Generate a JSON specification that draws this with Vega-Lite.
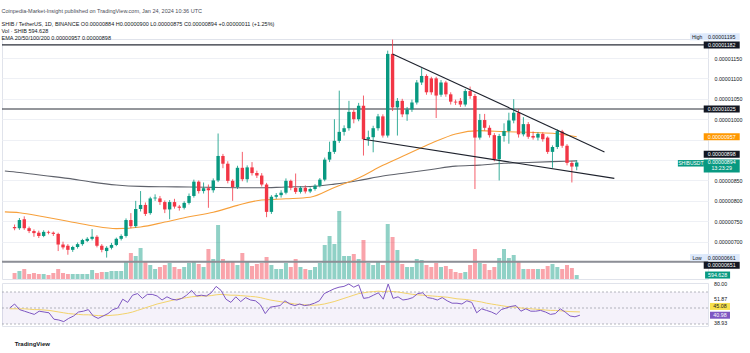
{
"$schema": "https://vega.github.io/schema/vega-lite/v6.json",
"background": "#ffffff",
"padding": {"left": 0, "top": 8, "right": 2, "bottom": 0},
"title": {"text": "Coinpedia-Market-Insight published on TradingView.com, Jan 24, 2024 10:36 UTC", "subtitle": ["   SHIB / TetherUS, 1D, BINANCE   O0.00000884  H0.00000900  L0.00000875  C0.00000894  +0.00000011 (+1.25%)", "   Vol · SHIB   594.628", "   EMA 20/50/100/200   0.00000957   0.00000898"], "anchor": "start", "fontSize": 5.5, "fontWeight": "normal", "color": "#4a4d57", "subtitleFontSize": 5.5, "subtitleColor": "#131722", "subtitleLineHeight": 7, "subtitlePadding": 8, "offset": -9, "dx": 1},
"spacing": 1,
"config": {
  "font": "Liberation Sans",
  "view": {"stroke": "#e0e3eb", "strokeWidth": 1},
  "axis": {"labelFont": "Liberation Sans"},
  "text": {"font": "Liberation Sans"},
  "title": {"font": "Liberation Sans", "subtitleFont": "Liberation Sans"}
},
"datasets": {
"candles": [
{"date":"2023-09-30","open":736e-8,"high":742e-8,"low":728e-8,"close":733e-8,"volume":900,"rsi":50,"rsiMA":49},
{"date":"2023-10-01","open":733e-8,"high":758e-8,"low":729e-8,"close":753e-8,"volume":1200,"rsi":55,"rsiMA":49},
{"date":"2023-10-02","open":755e-8,"high":762e-8,"low":729e-8,"close":733e-8,"volume":1500,"rsi":48,"rsiMA":49},
{"date":"2023-10-03","open":733e-8,"high":737e-8,"low":721e-8,"close":726e-8,"volume":750,"rsi":46,"rsiMA":49},
{"date":"2023-10-04","open":726e-8,"high":730e-8,"low":712e-8,"close":721e-8,"volume":900,"rsi":44,"rsiMA":48.5},
{"date":"2023-10-05","open":722e-8,"high":727e-8,"low":709e-8,"close":714e-8,"volume":750,"rsi":42,"rsiMA":48},
{"date":"2023-10-06","open":714e-8,"high":728e-8,"low":711e-8,"close":724e-8,"volume":750,"rsi":46,"rsiMA":48},
{"date":"2023-10-07","open":724e-8,"high":727e-8,"low":718e-8,"close":722e-8,"volume":600,"rsi":45,"rsiMA":47.5},
{"date":"2023-10-08","open":722e-8,"high":725e-8,"low":714e-8,"close":719e-8,"volume":900,"rsi":44,"rsiMA":47},
{"date":"2023-10-09","open":719e-8,"high":722e-8,"low":677e-8,"close":693e-8,"volume":1500,"rsi":36,"rsiMA":46},
{"date":"2023-10-10","open":693e-8,"high":700e-8,"low":681e-8,"close":686e-8,"volume":900,"rsi":35,"rsiMA":45},
{"date":"2023-10-11","open":690e-8,"high":694e-8,"low":668e-8,"close":680e-8,"volume":750,"rsi":33,"rsiMA":44},
{"date":"2023-10-12","open":680e-8,"high":690e-8,"low":675e-8,"close":687e-8,"volume":750,"rsi":37,"rsiMA":43},
{"date":"2023-10-13","open":687e-8,"high":698e-8,"low":683e-8,"close":694e-8,"volume":750,"rsi":40,"rsiMA":42.5},
{"date":"2023-10-14","open":694e-8,"high":707e-8,"low":690e-8,"close":704e-8,"volume":750,"rsi":45,"rsiMA":42},
{"date":"2023-10-15","open":702e-8,"high":711e-8,"low":699e-8,"close":707e-8,"volume":750,"rsi":46,"rsiMA":41.5},
{"date":"2023-10-16","open":707e-8,"high":731e-8,"low":703e-8,"close":712e-8,"volume":1350,"rsi":48,"rsiMA":41.5},
{"date":"2023-10-17","open":712e-8,"high":716e-8,"low":686e-8,"close":690e-8,"volume":900,"rsi":40,"rsiMA":41},
{"date":"2023-10-18","open":690e-8,"high":694e-8,"low":674e-8,"close":680e-8,"volume":1050,"rsi":37,"rsiMA":40.5},
{"date":"2023-10-19","open":677e-8,"high":689e-8,"low":661e-8,"close":685e-8,"volume":1050,"rsi":40,"rsiMA":40.5},
{"date":"2023-10-20","open":685e-8,"high":697e-8,"low":681e-8,"close":692e-8,"volume":1200,"rsi":43,"rsiMA":40.5},
{"date":"2023-10-21","open":692e-8,"high":710e-8,"low":689e-8,"close":707e-8,"volume":1200,"rsi":48,"rsiMA":41},
{"date":"2023-10-22","open":707e-8,"high":718e-8,"low":703e-8,"close":714e-8,"volume":1200,"rsi":50,"rsiMA":41.5},
{"date":"2023-10-23","open":714e-8,"high":757e-8,"low":710e-8,"close":753e-8,"volume":2700,"rsi":61,"rsiMA":42.5},
{"date":"2023-10-24","open":753e-8,"high":770e-8,"low":733e-8,"close":738e-8,"volume":3900,"rsi":57,"rsiMA":43.5},
{"date":"2023-10-25","open":738e-8,"high":800e-8,"low":734e-8,"close":780e-8,"volume":3450,"rsi":66,"rsiMA":45},
{"date":"2023-10-26","open":780e-8,"high":824e-8,"low":774e-8,"close":790e-8,"volume":4650,"rsi":68,"rsiMA":47},
{"date":"2023-10-27","open":790e-8,"high":796e-8,"low":763e-8,"close":768e-8,"volume":2700,"rsi":62,"rsiMA":49},
{"date":"2023-10-28","open":770e-8,"high":810e-8,"low":766e-8,"close":806e-8,"volume":2100,"rsi":67,"rsiMA":51},
{"date":"2023-10-29","open":806e-8,"high":816e-8,"low":800e-8,"close":808e-8,"volume":1500,"rsi":67,"rsiMA":53},
{"date":"2023-10-30","open":806e-8,"high":812e-8,"low":790e-8,"close":797e-8,"volume":1800,"rsi":65,"rsiMA":55},
{"date":"2023-10-31","open":797e-8,"high":801e-8,"low":770e-8,"close":779e-8,"volume":2100,"rsi":60,"rsiMA":56.5},
{"date":"2023-11-01","open":779e-8,"high":802e-8,"low":755e-8,"close":797e-8,"volume":2400,"rsi":64,"rsiMA":58},
{"date":"2023-11-02","open":797e-8,"high":805e-8,"low":781e-8,"close":786e-8,"volume":1800,"rsi":61,"rsiMA":59.5},
{"date":"2023-11-03","open":786e-8,"high":790e-8,"low":776e-8,"close":783e-8,"volume":1500,"rsi":60,"rsiMA":61},
{"date":"2023-11-04","open":783e-8,"high":799e-8,"low":779e-8,"close":795e-8,"volume":1800,"rsi":62,"rsiMA":62},
{"date":"2023-11-05","open":795e-8,"high":818e-8,"low":791e-8,"close":812e-8,"volume":2400,"rsi":66,"rsiMA":63},
{"date":"2023-11-06","open":812e-8,"high":852e-8,"low":808e-8,"close":847e-8,"volume":2550,"rsi":72,"rsiMA":64},
{"date":"2023-11-07","open":847e-8,"high":850e-8,"low":818e-8,"close":824e-8,"volume":2250,"rsi":65,"rsiMA":64.5},
{"date":"2023-11-08","open":824e-8,"high":845e-8,"low":818e-8,"close":831e-8,"volume":1800,"rsi":66,"rsiMA":65},
{"date":"2023-11-09","open":831e-8,"high":840e-8,"low":783e-8,"close":826e-8,"volume":4500,"rsi":65,"rsiMA":65},
{"date":"2023-11-10","open":826e-8,"high":855e-8,"low":820e-8,"close":850e-8,"volume":3000,"rsi":69,"rsiMA":65.5},
{"date":"2023-11-11","open":850e-8,"high":965e-8,"low":846e-8,"close":910e-8,"volume":8100,"rsi":77,"rsiMA":66.5},
{"date":"2023-11-12","open":910e-8,"high":915e-8,"low":880e-8,"close":891e-8,"volume":3000,"rsi":72,"rsiMA":67},
{"date":"2023-11-13","open":891e-8,"high":897e-8,"low":843e-8,"close":849e-8,"volume":2700,"rsi":61,"rsiMA":66.5},
{"date":"2023-11-14","open":849e-8,"high":853e-8,"low":800e-8,"close":834e-8,"volume":2550,"rsi":57,"rsiMA":66},
{"date":"2023-11-15","open":834e-8,"high":886e-8,"low":829e-8,"close":881e-8,"volume":2100,"rsi":64,"rsiMA":66},
{"date":"2023-11-16","open":881e-8,"high":920e-8,"low":848e-8,"close":853e-8,"volume":3900,"rsi":58,"rsiMA":65.5},
{"date":"2023-11-17","open":853e-8,"high":887e-8,"low":845e-8,"close":882e-8,"volume":2700,"rsi":63,"rsiMA":65},
{"date":"2023-11-18","open":882e-8,"high":895e-8,"low":862e-8,"close":868e-8,"volume":1950,"rsi":60,"rsiMA":64.5},
{"date":"2023-11-19","open":868e-8,"high":874e-8,"low":856e-8,"close":862e-8,"volume":2250,"rsi":59,"rsiMA":64},
{"date":"2023-11-20","open":862e-8,"high":868e-8,"low":835e-8,"close":840e-8,"volume":2400,"rsi":54,"rsiMA":63},
{"date":"2023-11-21","open":840e-8,"high":844e-8,"low":760e-8,"close":773e-8,"volume":3300,"rsi":43,"rsiMA":61.5},
{"date":"2023-11-22","open":773e-8,"high":814e-8,"low":768e-8,"close":810e-8,"volume":2100,"rsi":51,"rsiMA":60},
{"date":"2023-11-23","open":810e-8,"high":819e-8,"low":805e-8,"close":814e-8,"volume":1500,"rsi":52,"rsiMA":59},
{"date":"2023-11-24","open":814e-8,"high":826e-8,"low":808e-8,"close":820e-8,"volume":1500,"rsi":53,"rsiMA":58},
{"date":"2023-11-25","open":820e-8,"high":855e-8,"low":816e-8,"close":849e-8,"volume":2400,"rsi":59,"rsiMA":57},
{"date":"2023-11-26","open":849e-8,"high":852e-8,"low":826e-8,"close":832e-8,"volume":1800,"rsi":55,"rsiMA":56},
{"date":"2023-11-27","open":832e-8,"high":867e-8,"low":817e-8,"close":822e-8,"volume":3000,"rsi":53,"rsiMA":55},
{"date":"2023-11-28","open":822e-8,"high":836e-8,"low":818e-8,"close":832e-8,"volume":1800,"rsi":55,"rsiMA":54.5},
{"date":"2023-11-29","open":832e-8,"high":838e-8,"low":818e-8,"close":823e-8,"volume":1500,"rsi":53,"rsiMA":54},
{"date":"2023-11-30","open":823e-8,"high":833e-8,"low":819e-8,"close":829e-8,"volume":1350,"rsi":54,"rsiMA":53.5},
{"date":"2023-12-01","open":829e-8,"high":841e-8,"low":825e-8,"close":837e-8,"volume":1800,"rsi":56,"rsiMA":53.5},
{"date":"2023-12-02","open":837e-8,"high":856e-8,"low":833e-8,"close":852e-8,"volume":2400,"rsi":59,"rsiMA":54},
{"date":"2023-12-03","open":852e-8,"high":906e-8,"low":848e-8,"close":901e-8,"volume":5100,"rsi":68,"rsiMA":55},
{"date":"2023-12-04","open":901e-8,"high":945e-8,"low":895e-8,"close":920e-8,"volume":6450,"rsi":71,"rsiMA":56.5},
{"date":"2023-12-05","open":920e-8,"high":1000e-8,"low":915e-8,"close":947e-8,"volume":5250,"rsi":74,"rsiMA":58},
{"date":"2023-12-06","open":947e-8,"high":1070e-8,"low":942e-8,"close":969e-8,"volume":10200,"rsi":76,"rsiMA":60},
{"date":"2023-12-07","open":969e-8,"high":985e-8,"low":960e-8,"close":978e-8,"volume":3450,"rsi":77,"rsiMA":62},
{"date":"2023-12-08","open":978e-8,"high":1045e-8,"low":972e-8,"close":1018e-8,"volume":3450,"rsi":80,"rsiMA":64},
{"date":"2023-12-09","open":1018e-8,"high":1024e-8,"low":990e-8,"close":1000e-8,"volume":3750,"rsi":76,"rsiMA":66},
{"date":"2023-12-10","open":1000e-8,"high":1040e-8,"low":995e-8,"close":1033e-8,"volume":3000,"rsi":79,"rsiMA":68},
{"date":"2023-12-11","open":1033e-8,"high":1058e-8,"low":911e-8,"close":951e-8,"volume":5850,"rsi":62,"rsiMA":69},
{"date":"2023-12-12","open":951e-8,"high":972e-8,"low":935e-8,"close":956e-8,"volume":2400,"rsi":63,"rsiMA":70},
{"date":"2023-12-13","open":956e-8,"high":984e-8,"low":919e-8,"close":978e-8,"volume":2100,"rsi":66,"rsiMA":70.5},
{"date":"2023-12-14","open":978e-8,"high":1013e-8,"low":972e-8,"close":1007e-8,"volume":2700,"rsi":69,"rsiMA":71},
{"date":"2023-12-15","open":1007e-8,"high":1012e-8,"low":955e-8,"close":960e-8,"volume":2100,"rsi":61,"rsiMA":70.5},
{"date":"2023-12-16","open":960e-8,"high":1168e-8,"low":955e-8,"close":1160e-8,"volume":8250,"rsi":80,"rsiMA":71},
{"date":"2023-12-17","open":1160e-8,"high":1195e-8,"low":1020e-8,"close":1029e-8,"volume":6300,"rsi":62,"rsiMA":70.5},
{"date":"2023-12-18","open":1029e-8,"high":1052e-8,"low":960e-8,"close":1045e-8,"volume":4350,"rsi":64,"rsiMA":70},
{"date":"2023-12-19","open":1045e-8,"high":1050e-8,"low":1005e-8,"close":1012e-8,"volume":2250,"rsi":60,"rsiMA":69},
{"date":"2023-12-20","open":1012e-8,"high":1030e-8,"low":996e-8,"close":1024e-8,"volume":1800,"rsi":61,"rsiMA":68},
{"date":"2023-12-21","open":1024e-8,"high":1048e-8,"low":1018e-8,"close":1041e-8,"volume":1800,"rsi":63,"rsiMA":67},
{"date":"2023-12-22","open":1041e-8,"high":1096e-8,"low":1036e-8,"close":1090e-8,"volume":3000,"rsi":68,"rsiMA":66.5},
{"date":"2023-12-23","open":1090e-8,"high":1125e-8,"low":1084e-8,"close":1106e-8,"volume":2850,"rsi":69,"rsiMA":66},
{"date":"2023-12-24","open":1106e-8,"high":1110e-8,"low":1060e-8,"close":1066e-8,"volume":2100,"rsi":63,"rsiMA":65.5},
{"date":"2023-12-25","open":1100e-8,"high":1104e-8,"low":1060e-8,"close":1066e-8,"volume":1800,"rsi":62,"rsiMA":65},
{"date":"2023-12-26","open":1100e-8,"high":1104e-8,"low":1003e-8,"close":1058e-8,"volume":2400,"rsi":60,"rsiMA":64.5},
{"date":"2023-12-27","open":1060e-8,"high":1096e-8,"low":1055e-8,"close":1090e-8,"volume":1800,"rsi":63,"rsiMA":64},
{"date":"2023-12-28","open":1090e-8,"high":1094e-8,"low":1055e-8,"close":1061e-8,"volume":1950,"rsi":59,"rsiMA":63.5},
{"date":"2023-12-29","open":1061e-8,"high":1066e-8,"low":1036e-8,"close":1043e-8,"volume":1500,"rsi":56,"rsiMA":62.5},
{"date":"2023-12-30","open":1043e-8,"high":1048e-8,"low":1035e-8,"close":1041e-8,"volume":1050,"rsi":56,"rsiMA":61.5},
{"date":"2023-12-31","open":1045e-8,"high":1052e-8,"low":1030e-8,"close":1036e-8,"volume":900,"rsi":55,"rsiMA":61},
{"date":"2024-01-01","open":1036e-8,"high":1074e-8,"low":1031e-8,"close":1069e-8,"volume":1050,"rsi":59,"rsiMA":60.5},
{"date":"2024-01-02","open":1069e-8,"high":1080e-8,"low":1050e-8,"close":1057e-8,"volume":2100,"rsi":57,"rsiMA":59.5},
{"date":"2024-01-03","open":1057e-8,"high":1062e-8,"low":829e-8,"close":955e-8,"volume":4500,"rsi":44,"rsiMA":58.5},
{"date":"2024-01-04","open":955e-8,"high":1013e-8,"low":950e-8,"close":998e-8,"volume":2400,"rsi":49,"rsiMA":57.5},
{"date":"2024-01-05","open":998e-8,"high":1013e-8,"low":972e-8,"close":979e-8,"volume":2250,"rsi":47,"rsiMA":56},
{"date":"2024-01-06","open":979e-8,"high":985e-8,"low":955e-8,"close":961e-8,"volume":1350,"rsi":45,"rsiMA":55},
{"date":"2024-01-07","open":961e-8,"high":966e-8,"low":897e-8,"close":902e-8,"volume":1800,"rsi":42,"rsiMA":54},
{"date":"2024-01-08","open":902e-8,"high":964e-8,"low":850e-8,"close":959e-8,"volume":3150,"rsi":48,"rsiMA":53},
{"date":"2024-01-09","open":959e-8,"high":990e-8,"low":945e-8,"close":971e-8,"volume":4500,"rsi":50,"rsiMA":52},
{"date":"2024-01-10","open":971e-8,"high":1016e-8,"low":940e-8,"close":997e-8,"volume":3150,"rsi":52,"rsiMA":51.5},
{"date":"2024-01-11","open":997e-8,"high":1049e-8,"low":990e-8,"close":1016e-8,"volume":3600,"rsi":53,"rsiMA":51},
{"date":"2024-01-12","open":1016e-8,"high":1024e-8,"low":955e-8,"close":963e-8,"volume":2550,"rsi":46,"rsiMA":50},
{"date":"2024-01-13","open":963e-8,"high":1005e-8,"low":958e-8,"close":988e-8,"volume":1500,"rsi":49,"rsiMA":49.5},
{"date":"2024-01-14","open":988e-8,"high":993e-8,"low":952e-8,"close":957e-8,"volume":1500,"rsi":46,"rsiMA":49},
{"date":"2024-01-15","open":959e-8,"high":970e-8,"low":950e-8,"close":955e-8,"volume":1500,"rsi":46,"rsiMA":48.5},
{"date":"2024-01-16","open":955e-8,"high":968e-8,"low":948e-8,"close":964e-8,"volume":1500,"rsi":47,"rsiMA":48},
{"date":"2024-01-17","open":964e-8,"high":968e-8,"low":945e-8,"close":951e-8,"volume":1500,"rsi":45,"rsiMA":47.5},
{"date":"2024-01-18","open":955e-8,"high":958e-8,"low":915e-8,"close":920e-8,"volume":1950,"rsi":42,"rsiMA":47},
{"date":"2024-01-19","open":920e-8,"high":936e-8,"low":881e-8,"close":932e-8,"volume":2250,"rsi":43,"rsiMA":47},
{"date":"2024-01-20","open":932e-8,"high":975e-8,"low":927e-8,"close":971e-8,"volume":1800,"rsi":49,"rsiMA":46.5},
{"date":"2024-01-21","open":970e-8,"high":974e-8,"low":930e-8,"close":935e-8,"volume":1500,"rsi":45,"rsiMA":46},
{"date":"2024-01-22","open":935e-8,"high":939e-8,"low":887e-8,"close":893e-8,"volume":2100,"rsi":40,"rsiMA":45.5},
{"date":"2024-01-23","open":893e-8,"high":898e-8,"low":845e-8,"close":884e-8,"volume":1650,"rsi":39,"rsiMA":45.3},
{"date":"2024-01-24","open":884e-8,"high":900e-8,"low":875e-8,"close":894e-8,"volume":594.628,"rsi":40.98,"rsiMA":45.08}
],
"ema": [
{"date":"2023-09-28","ema50":773e-8,"ema200":873e-8},
{"date":"2023-10-01","ema50":771e-8,"ema200":869.5e-8},
{"date":"2023-10-06","ema50":761e-8,"ema200":862e-8},
{"date":"2023-10-11","ema50":750e-8,"ema200":855e-8},
{"date":"2023-10-16","ema50":739e-8,"ema200":846e-8},
{"date":"2023-10-21","ema50":732e-8,"ema200":839e-8},
{"date":"2023-10-26","ema50":736e-8,"ema200":835.4e-8},
{"date":"2023-10-31","ema50":748e-8,"ema200":834.4e-8},
{"date":"2023-11-05","ema50":761e-8,"ema200":834e-8},
{"date":"2023-11-10","ema50":772e-8,"ema200":833e-8},
{"date":"2023-11-15","ema50":789e-8,"ema200":832.2e-8},
{"date":"2023-11-20","ema50":802e-8,"ema200":832e-8},
{"date":"2023-11-25","ema50":805e-8,"ema200":834e-8},
{"date":"2023-11-30","ema50":809e-8,"ema200":835e-8},
{"date":"2023-12-05","ema50":833e-8,"ema200":841e-8},
{"date":"2023-12-10","ema50":856e-8,"ema200":850e-8},
{"date":"2023-12-15","ema50":887e-8,"ema200":861e-8},
{"date":"2023-12-20","ema50":914e-8,"ema200":869e-8},
{"date":"2023-12-25","ema50":941e-8,"ema200":877e-8},
{"date":"2023-12-30","ema50":964e-8,"ema200":885e-8},
{"date":"2024-01-04","ema50":972e-8,"ema200":887.6e-8},
{"date":"2024-01-09","ema50":969.5e-8,"ema200":892e-8},
{"date":"2024-01-14","ema50":968e-8,"ema200":894e-8},
{"date":"2024-01-19","ema50":965.5e-8,"ema200":896e-8},
{"date":"2024-01-24","ema50":957e-8,"ema200":898e-8}
],
"levels": [{"line":"upper","price":1182e-8},{"line":"middle","price":1025e-8},{"line":"lower","price":651e-8}],
"trend": [
{"start":"2023-12-17T00:00:00Z","startPrice":1160e-8,"end":"2024-01-29T17:30:00Z","endPrice":920e-8},
{"start":"2023-12-11T00:00:00Z","startPrice":951e-8,"end":"2024-01-31T18:15:00Z","endPrice":855e-8}
],
"ptags": [
{"price":1195e-8,"label":"0.00001195","kind":"extreme"},
{"price":1182e-8,"label":"0.00001182","kind":"level"},
{"price":1025e-8,"label":"0.00001025","kind":"level"},
{"price":957e-8,"label":"0.00000957","kind":"ema50"},
{"price":898e-8,"label":"0.00000898","kind":"ema200"},
{"price":661e-8,"label":"0.00000661","kind":"extreme"},
{"price":651e-8,"label":"0.00000651","kind":"level"}
],
"lasttag": [{"price":894e-8,"label":"0.00000894\n13:23:29","symbol":"SHIBUSDT"}],
"hlnames": [{"price":1195e-8,"name":"High"},{"price":661e-8,"name":"Low"}],
"rsiband": [{"top":70,"bottom":30}],
"rsilevels": [{"level":70},{"level":50},{"level":30}],
"rsitags": [{"value":45.08,"label":"45.08","kind":"ma"},{"value":40.98,"label":"40.98","kind":"rsi"}],
"rsilabels": [{"value":80,"label":"80.00"},{"value":51.87,"label":"51.87"},{"value":38.93,"label":"38.93"}]
},
"vconcat": [
{
"width": 706, "height": 240,
"resolve": {"scale": {"y": "independent"}},
"layer": [
{"data": {"name": "candles"},
 "mark": {"type": "bar", "size": 4, "opacity": 0.45},
 "encoding": {
  "x": {"field": "date", "type": "temporal", "scale": {"type": "utc", "domain": [{"year":2023,"month":9,"date":28,"hours":10,"minutes":32,"utc":true},{"year":2024,"month":2,"date":19,"hours":1,"minutes":26,"utc":true}]}, "axis": {"values": [{"year":2023,"month":10,"date":1,"utc":true},{"year":2023,"month":10,"date":9,"utc":true},{"year":2023,"month":10,"date":23,"utc":true},{"year":2023,"month":11,"date":1,"utc":true},{"year":2023,"month":11,"date":13,"utc":true},{"year":2023,"month":11,"date":21,"utc":true},{"year":2023,"month":12,"date":1,"utc":true},{"year":2023,"month":12,"date":11,"utc":true},{"year":2023,"month":12,"date":19,"utc":true},{"year":2024,"month":1,"date":1,"utc":true},{"year":2024,"month":1,"date":15,"utc":true},{"year":2024,"month":1,"date":23,"utc":true},{"year":2024,"month":2,"date":1,"utc":true},{"year":2024,"month":2,"date":12,"utc":true}], "labels": false, "ticks": false, "domain": false, "grid": true, "gridColor": "#e9ebf0", "title": null}},
  "y": {"field": "volume", "type": "quantitative", "scale": {"domain": [0, 36000]}, "axis": null},
  "color": {"condition": {"test": "datum.close >= datum.open", "value": "#089981"}, "value": "#f23645"}
 }},
{"data": {"name": "ema"},
 "mark": {"type": "line", "color": "#5f626b", "strokeWidth": 1.1, "clip": true, "interpolate": "monotone"},
 "encoding": {
  "x": {"field": "date", "type": "temporal", "scale": {"type": "utc", "domain": [{"year":2023,"month":9,"date":28,"hours":10,"minutes":32,"utc":true},{"year":2024,"month":2,"date":19,"hours":1,"minutes":26,"utc":true}]}, "axis": null},
  "y": {"field": "ema200", "type": "quantitative", "scale": {"domain": [6.0855e-6, 1.19655e-5], "nice": false, "zero": false},
        "axis": {"orient": "right", "values": [6.5e-6, 7e-6, 7.5e-6, 8e-6, 8.5e-6, 9e-6, 9.5e-6, 1e-5, 1.05e-5, 1.1e-5, 1.15e-5], "labelExpr": "(abs(datum.value - 0.0000065) < 1e-9 || abs(datum.value - 0.000009) < 1e-9 || abs(datum.value - 0.0000095) < 1e-9) ? '' : format(datum.value, '.8f')", "grid": true, "gridColor": "#eef0f5", "ticks": false, "domain": false, "labelPadding": 6, "labelFontSize": 5.3, "labelColor": "#131722", "title": null, "labelOverlap": false, "labelFlush": false}}}},
{"data": {"name": "levels"}, "transform": [{"filter": "datum.line != 'lower'"}],
 "mark": {"type": "rule", "color": "#2a2e39", "strokeWidth": 1.2},
 "encoding": {"y": {"field": "price", "type": "quantitative", "scale": {"domain": [6.0855e-6, 1.19655e-5], "nice": false, "zero": false}, "axis": null}}},
{"data": {"name": "levels"}, "transform": [{"filter": "datum.line == 'lower'"}],
 "mark": {"type": "rule", "color": "#8d8f96", "strokeWidth": 2},
 "encoding": {"y": {"field": "price", "type": "quantitative", "scale": {"domain": [6.0855e-6, 1.19655e-5], "nice": false, "zero": false}, "axis": null}}},
{"data": {"name": "ema"},
 "mark": {"type": "line", "color": "#f7a03b", "strokeWidth": 1.1, "clip": true, "interpolate": "monotone"},
 "encoding": {
  "x": {"field": "date", "type": "temporal", "scale": {"type": "utc", "domain": [{"year":2023,"month":9,"date":28,"hours":10,"minutes":32,"utc":true},{"year":2024,"month":2,"date":19,"hours":1,"minutes":26,"utc":true}]}, "axis": null},
  "y": {"field": "ema50", "type": "quantitative", "scale": {"domain": [6.0855e-6, 1.19655e-5], "nice": false, "zero": false}, "axis": null}}},
{"data": {"name": "candles"},
 "mark": {"type": "rule", "strokeWidth": 0.8},
 "encoding": {
  "x": {"field": "date", "type": "temporal", "scale": {"type": "utc", "domain": [{"year":2023,"month":9,"date":28,"hours":10,"minutes":32,"utc":true},{"year":2024,"month":2,"date":19,"hours":1,"minutes":26,"utc":true}]}, "axis": null},
  "y": {"field": "low", "type": "quantitative", "scale": {"domain": [6.0855e-6, 1.19655e-5], "nice": false, "zero": false}, "axis": null},
  "y2": {"field": "high"},
  "color": {"condition": {"test": "datum.close >= datum.open", "value": "#089981"}, "value": "#f23645"}}},
{"data": {"name": "candles"},
 "mark": {"type": "bar", "size": 3.4, "opacity": 1},
 "encoding": {
  "x": {"field": "date", "type": "temporal", "scale": {"type": "utc", "domain": [{"year":2023,"month":9,"date":28,"hours":10,"minutes":32,"utc":true},{"year":2024,"month":2,"date":19,"hours":1,"minutes":26,"utc":true}]}, "axis": null},
  "y": {"field": "open", "type": "quantitative", "scale": {"domain": [6.0855e-6, 1.19655e-5], "nice": false, "zero": false}, "axis": null},
  "y2": {"field": "close"},
  "color": {"condition": {"test": "datum.close >= datum.open", "value": "#089981"}, "value": "#f23645"}}},
{"data": {"name": "trend"},
 "mark": {"type": "rule", "color": "#1e222d", "strokeWidth": 1.1},
 "encoding": {
  "x": {"field": "start", "type": "temporal", "scale": {"type": "utc", "domain": [{"year":2023,"month":9,"date":28,"hours":10,"minutes":32,"utc":true},{"year":2024,"month":2,"date":19,"hours":1,"minutes":26,"utc":true}]}, "axis": null},
  "x2": {"field": "end"},
  "y": {"field": "startPrice", "type": "quantitative", "scale": {"domain": [6.0855e-6, 1.19655e-5], "nice": false, "zero": false}, "axis": null},
  "y2": {"field": "endPrice"}}},
{"data": {"name": "candles"}, "transform": [{"filter": "datum.volume == 594.628"}],
 "mark": {"type": "tick", "orient": "horizontal", "thickness": 7, "size": 25, "opacity": 1, "color": "#089981"},
 "encoding": {
  "x": {"datum": {"year":2024,"month":2,"date":22,"hours":1,"minutes":40,"utc":true}, "type": "temporal"},
  "y": {"field": "volume", "type": "quantitative", "scale": {"domain": [0, 36000]}, "axis": null}}},
{"data": {"name": "candles"}, "transform": [{"filter": "datum.volume == 594.628"}],
 "mark": {"type": "text", "fontSize": 5.3, "color": "#ffffff", "align": "center", "baseline": "middle"},
 "encoding": {
  "x": {"datum": {"year":2024,"month":2,"date":22,"hours":1,"minutes":40,"utc":true}, "type": "temporal"},
  "y": {"field": "volume", "type": "quantitative", "scale": {"domain": [0, 36000]}, "axis": null},
  "text": {"field": "volume", "type": "quantitative", "format": ".3f"}}},
{"data": {"name": "ptags"}, "transform": [{"filter": "indexof(['0.00001182','0.00001025','0.00000957','0.00000661'], datum.label) >= 0"}],
 "mark": {"type": "tick", "orient": "horizontal", "thickness": 7, "size": 36, "opacity": 1},
 "encoding": {
  "x": {"datum": {"year":2024,"month":2,"date":22,"hours":22,"minutes":5,"utc":true}, "type": "temporal"},
  "y": {"field": "price", "type": "quantitative", "scale": {"domain": [6.0855e-6, 1.19655e-5], "nice": false, "zero": false}, "axis": null},
  "color": {"field": "kind", "type": "nominal", "scale": {"domain": ["level","ema50","ema200","last","extreme"], "range": ["#131722","#ff9800","#131722","#089981","#dde9fb"]}, "legend": null}}},
{"data": {"name": "ptags"}, "transform": [{"filter": "indexof(['0.00001182','0.00001025','0.00000957','0.00000661'], datum.label) >= 0"}],
 "mark": {"type": "text", "fontSize": 5.3, "align": "center", "baseline": "middle"},
 "encoding": {
  "x": {"datum": {"year":2024,"month":2,"date":22,"hours":22,"minutes":5,"utc":true}, "type": "temporal"},
  "y": {"field": "price", "type": "quantitative", "scale": {"domain": [6.0855e-6, 1.19655e-5], "nice": false, "zero": false}, "axis": null},
  "text": {"field": "label"},
  "color": {"condition": {"test": "datum.kind == 'extreme'", "value": "#131722"}, "value": "#ffffff"}}},
{"data": {"name": "ptags"}, "transform": [{"filter": "datum.label == '0.00001195'"}],
 "mark": {"type": "tick", "orient": "horizontal", "thickness": 7, "size": 36, "opacity": 1, "yOffset": -2.8, "color": "#dde9fb"},
 "encoding": {
  "x": {"datum": {"year":2024,"month":2,"date":22,"hours":22,"minutes":5,"utc":true}, "type": "temporal"},
  "y": {"field": "price", "type": "quantitative", "scale": {"domain": [6.0855e-6, 1.19655e-5], "nice": false, "zero": false}, "axis": null}}},
{"data": {"name": "ptags"}, "transform": [{"filter": "datum.label == '0.00001195'"}],
 "mark": {"type": "text", "fontSize": 5.3, "align": "center", "baseline": "middle", "yOffset": -2.8, "color": "#131722"},
 "encoding": {
  "x": {"datum": {"year":2024,"month":2,"date":22,"hours":22,"minutes":5,"utc":true}, "type": "temporal"},
  "y": {"field": "price", "type": "quantitative", "scale": {"domain": [6.0855e-6, 1.19655e-5], "nice": false, "zero": false}, "axis": null},
  "text": {"field": "label"}}},
{"data": {"name": "ptags"}, "transform": [{"filter": "datum.label == '0.00000651'"}],
 "mark": {"type": "tick", "orient": "horizontal", "thickness": 7, "size": 36, "opacity": 1, "yOffset": 3.5, "color": "#131722"},
 "encoding": {
  "x": {"datum": {"year":2024,"month":2,"date":22,"hours":22,"minutes":5,"utc":true}, "type": "temporal"},
  "y": {"field": "price", "type": "quantitative", "scale": {"domain": [6.0855e-6, 1.19655e-5], "nice": false, "zero": false}, "axis": null}}},
{"data": {"name": "ptags"}, "transform": [{"filter": "datum.label == '0.00000651'"}],
 "mark": {"type": "text", "fontSize": 5.3, "align": "center", "baseline": "middle", "yOffset": 3.5, "color": "#ffffff"},
 "encoding": {
  "x": {"datum": {"year":2024,"month":2,"date":22,"hours":22,"minutes":5,"utc":true}, "type": "temporal"},
  "y": {"field": "price", "type": "quantitative", "scale": {"domain": [6.0855e-6, 1.19655e-5], "nice": false, "zero": false}, "axis": null},
  "text": {"field": "label"}}},
{"data": {"name": "ptags"}, "transform": [{"filter": "datum.label == '0.00000898'"}],
 "mark": {"type": "tick", "orient": "horizontal", "thickness": 7, "size": 36, "opacity": 1, "yOffset": -6.6, "color": "#131722"},
 "encoding": {
  "x": {"datum": {"year":2024,"month":2,"date":22,"hours":22,"minutes":5,"utc":true}, "type": "temporal"},
  "y": {"field": "price", "type": "quantitative", "scale": {"domain": [6.0855e-6, 1.19655e-5], "nice": false, "zero": false}, "axis": null}}},
{"data": {"name": "ptags"}, "transform": [{"filter": "datum.label == '0.00000898'"}],
 "mark": {"type": "text", "fontSize": 5.3, "align": "center", "baseline": "middle", "yOffset": -6.6, "color": "#ffffff"},
 "encoding": {
  "x": {"datum": {"year":2024,"month":2,"date":22,"hours":22,"minutes":5,"utc":true}, "type": "temporal"},
  "y": {"field": "price", "type": "quantitative", "scale": {"domain": [6.0855e-6, 1.19655e-5], "nice": false, "zero": false}, "axis": null},
  "text": {"field": "label"}}},
{"data": {"name": "lasttag"},
 "mark": {"type": "tick", "orient": "horizontal", "thickness": 13, "size": 36, "opacity": 1, "yOffset": 3.5, "color": "#089981"},
 "encoding": {
  "x": {"datum": {"year":2024,"month":2,"date":22,"hours":22,"minutes":5,"utc":true}, "type": "temporal"},
  "y": {"field": "price", "type": "quantitative", "scale": {"domain": [6.0855e-6, 1.19655e-5], "nice": false, "zero": false}, "axis": null}}},
{"data": {"name": "lasttag"},
 "mark": {"type": "text", "fontSize": 5.3, "align": "center", "baseline": "top", "yOffset": -2.2, "lineBreak": "\n", "lineHeight": 6, "color": "#ffffff"},
 "encoding": {
  "x": {"datum": {"year":2024,"month":2,"date":22,"hours":22,"minutes":5,"utc":true}, "type": "temporal"},
  "y": {"field": "price", "type": "quantitative", "scale": {"domain": [6.0855e-6, 1.19655e-5], "nice": false, "zero": false}, "axis": null},
  "text": {"field": "label"}}},
{"data": {"name": "lasttag"},
 "mark": {"type": "tick", "orient": "horizontal", "thickness": 6.5, "size": 26, "opacity": 1, "yOffset": 0.8, "color": "#089981"},
 "encoding": {
  "x": {"datum": {"year":2024,"month":2,"date":16,"hours":13,"minutes":26,"utc":true}, "type": "temporal"},
  "y": {"field": "price", "type": "quantitative", "scale": {"domain": [6.0855e-6, 1.19655e-5], "nice": false, "zero": false}, "axis": null}}},
{"data": {"name": "lasttag"},
 "mark": {"type": "text", "fontSize": 5, "align": "center", "baseline": "middle", "yOffset": 0.8, "color": "#ffffff"},
 "encoding": {
  "x": {"datum": {"year":2024,"month":2,"date":16,"hours":13,"minutes":26,"utc":true}, "type": "temporal"},
  "y": {"field": "price", "type": "quantitative", "scale": {"domain": [6.0855e-6, 1.19655e-5], "nice": false, "zero": false}, "axis": null},
  "text": {"field": "symbol"}}},
{"data": {"name": "hlnames"}, "transform": [{"filter": "datum.name == 'High'"}],
 "mark": {"type": "tick", "orient": "horizontal", "thickness": 7, "size": 14, "opacity": 1, "yOffset": -2.8, "color": "#dde9fb"},
 "encoding": {
  "x": {"datum": {"year":2024,"month":2,"date":17,"hours":20,"minutes":10,"utc":true}, "type": "temporal"},
  "y": {"field": "price", "type": "quantitative", "scale": {"domain": [6.0855e-6, 1.19655e-5], "nice": false, "zero": false}, "axis": null}}},
{"data": {"name": "hlnames"}, "transform": [{"filter": "datum.name == 'High'"}],
 "mark": {"type": "text", "fontSize": 5, "align": "center", "baseline": "middle", "yOffset": -2.8, "color": "#131722"},
 "encoding": {
  "x": {"datum": {"year":2024,"month":2,"date":17,"hours":20,"minutes":10,"utc":true}, "type": "temporal"},
  "y": {"field": "price", "type": "quantitative", "scale": {"domain": [6.0855e-6, 1.19655e-5], "nice": false, "zero": false}, "axis": null},
  "text": {"field": "name"}}},
{"data": {"name": "hlnames"}, "transform": [{"filter": "datum.name == 'Low'"}],
 "mark": {"type": "tick", "orient": "horizontal", "thickness": 7, "size": 14, "opacity": 1, "color": "#dde9fb"},
 "encoding": {
  "x": {"datum": {"year":2024,"month":2,"date":17,"hours":20,"minutes":10,"utc":true}, "type": "temporal"},
  "y": {"field": "price", "type": "quantitative", "scale": {"domain": [6.0855e-6, 1.19655e-5], "nice": false, "zero": false}, "axis": null}}},
{"data": {"name": "hlnames"}, "transform": [{"filter": "datum.name == 'Low'"}],
 "mark": {"type": "text", "fontSize": 5, "align": "center", "baseline": "middle", "color": "#131722"},
 "encoding": {
  "x": {"datum": {"year":2024,"month":2,"date":17,"hours":20,"minutes":10,"utc":true}, "type": "temporal"},
  "y": {"field": "price", "type": "quantitative", "scale": {"domain": [6.0855e-6, 1.19655e-5], "nice": false, "zero": false}, "axis": null},
  "text": {"field": "name"}}}
]
},
{
"width": 706, "height": 43,
"title": {"text": "TradingView", "orient": "bottom", "anchor": "start", "fontSize": 6, "fontWeight": "bold", "color": "#131722", "offset": 15, "dx": 13},
"layer": [
{"data": {"name": "rsiband"},
 "mark": {"type": "rect", "color": "#7e57c2", "opacity": 0.08},
 "encoding": {
  "x": {"datum": {"year":2023,"month":9,"date":28,"hours":10,"minutes":32,"utc":true}, "type": "temporal", "scale": {"type": "utc", "domain": [{"year":2023,"month":9,"date":28,"hours":10,"minutes":32,"utc":true},{"year":2024,"month":2,"date":19,"hours":1,"minutes":26,"utc":true}]}, "axis": null},
  "x2": {"datum": {"year":2024,"month":2,"date":19,"hours":1,"minutes":26,"utc":true}},
  "y": {"field": "top", "type": "quantitative", "scale": {"domain": [27.5, 81.25], "nice": false, "zero": false}, "axis": null},
  "y2": {"field": "bottom"}}},
{"data": {"name": "rsilevels"},
 "mark": {"type": "rule", "color": "#9598a1", "strokeDash": [2, 2], "strokeWidth": 0.7},
 "encoding": {"y": {"field": "level", "type": "quantitative", "scale": {"domain": [27.5, 81.25], "nice": false, "zero": false}, "axis": null}}},
{"data": {"name": "candles"},
 "mark": {"type": "line", "color": "#f3d36b", "strokeWidth": 1, "clip": true},
 "encoding": {
  "x": {"field": "date", "type": "temporal", "scale": {"type": "utc", "domain": [{"year":2023,"month":9,"date":28,"hours":10,"minutes":32,"utc":true},{"year":2024,"month":2,"date":19,"hours":1,"minutes":26,"utc":true}]},
        "axis": {"values": [{"year":2023,"month":10,"date":1,"utc":true},{"year":2023,"month":10,"date":9,"utc":true},{"year":2023,"month":10,"date":23,"utc":true},{"year":2023,"month":11,"date":1,"utc":true},{"year":2023,"month":11,"date":13,"utc":true},{"year":2023,"month":11,"date":21,"utc":true},{"year":2023,"month":12,"date":1,"utc":true},{"year":2023,"month":12,"date":11,"utc":true},{"year":2023,"month":12,"date":19,"utc":true},{"year":2024,"month":1,"date":1,"utc":true},{"year":2024,"month":1,"date":15,"utc":true},{"year":2024,"month":1,"date":23,"utc":true},{"year":2024,"month":2,"date":1,"utc":true},{"year":2024,"month":2,"date":12,"utc":true}],
                 "grid": true, "gridColor": "#e9ebf0", "ticks": false, "domain": false, "title": null, "labelFontSize": 5.5, "labelColor": "#131722", "labelPadding": 5, "labelFlush": false, "labelOverlap": false,
                 "labelExpr": "utcdate(datum.value) == 1 ? (utcmonth(datum.value) == 0 ? utcFormat(datum.value, '%Y') : utcFormat(datum.value, '%b')) : utcFormat(datum.value, '%-d')",
                 "labelFontWeight": {"condition": {"test": "utcmonth(datum.value) == 0 && utcdate(datum.value) == 1", "value": "bold"}, "value": "normal"}}},
  "y": {"field": "rsiMA", "type": "quantitative", "scale": {"domain": [27.5, 81.25], "nice": false, "zero": false}, "axis": null}}},
{"data": {"name": "candles"},
 "mark": {"type": "line", "color": "#7e57c2", "strokeWidth": 1, "clip": true},
 "encoding": {
  "x": {"field": "date", "type": "temporal", "scale": {"type": "utc", "domain": [{"year":2023,"month":9,"date":28,"hours":10,"minutes":32,"utc":true},{"year":2024,"month":2,"date":19,"hours":1,"minutes":26,"utc":true}]}, "axis": null},
  "y": {"field": "rsi", "type": "quantitative", "scale": {"domain": [27.5, 81.25], "nice": false, "zero": false}, "axis": null}}},
{"data": {"name": "rsitags"}, "transform": [{"filter": "datum.kind == 'ma'"}],
 "mark": {"type": "tick", "orient": "horizontal", "thickness": 7, "size": 20, "opacity": 1, "yOffset": -5.5, "color": "#f7e04b"},
 "encoding": {
  "x": {"datum": {"year":2024,"month":2,"date":21,"hours":12,"minutes":0,"utc":true}, "type": "temporal"},
  "y": {"field": "value", "type": "quantitative", "scale": {"domain": [27.5, 81.25], "nice": false, "zero": false}, "axis": null}}},
{"data": {"name": "rsitags"}, "transform": [{"filter": "datum.kind == 'ma'"}],
 "mark": {"type": "text", "fontSize": 5.3, "align": "center", "baseline": "middle", "yOffset": -5.5, "color": "#131722"},
 "encoding": {
  "x": {"datum": {"year":2024,"month":2,"date":21,"hours":12,"minutes":0,"utc":true}, "type": "temporal"},
  "y": {"field": "value", "type": "quantitative", "scale": {"domain": [27.5, 81.25], "nice": false, "zero": false}, "axis": null},
  "text": {"field": "label"}}},
{"data": {"name": "rsitags"}, "transform": [{"filter": "datum.kind == 'rsi'"}],
 "mark": {"type": "tick", "orient": "horizontal", "thickness": 7, "size": 20, "opacity": 1, "color": "#7e57c2"},
 "encoding": {
  "x": {"datum": {"year":2024,"month":2,"date":21,"hours":12,"minutes":0,"utc":true}, "type": "temporal"},
  "y": {"field": "value", "type": "quantitative", "scale": {"domain": [27.5, 81.25], "nice": false, "zero": false}, "axis": null}}},
{"data": {"name": "rsitags"}, "transform": [{"filter": "datum.kind == 'rsi'"}],
 "mark": {"type": "text", "fontSize": 5.3, "align": "center", "baseline": "middle", "color": "#ffffff"},
 "encoding": {
  "x": {"datum": {"year":2024,"month":2,"date":21,"hours":12,"minutes":0,"utc":true}, "type": "temporal"},
  "y": {"field": "value", "type": "quantitative", "scale": {"domain": [27.5, 81.25], "nice": false, "zero": false}, "axis": null},
  "text": {"field": "label"}}},
{"data": {"name": "rsilabels"}, "transform": [{"filter": "datum.label == '80.00'"}],
 "mark": {"type": "text", "fontSize": 5.3, "align": "left", "baseline": "middle", "color": "#131722"},
 "encoding": {
  "x": {"datum": {"year":2024,"month":2,"date":20,"hours":6,"minutes":43,"utc":true}, "type": "temporal"},
  "y": {"field": "value", "type": "quantitative", "scale": {"domain": [27.5, 81.25], "nice": false, "zero": false}, "axis": null},
  "text": {"field": "label"}}},
{"data": {"name": "rsilabels"}, "transform": [{"filter": "datum.label == '51.87'"}],
 "mark": {"type": "text", "fontSize": 5.3, "align": "left", "baseline": "middle", "yOffset": -7.5, "color": "#131722"},
 "encoding": {
  "x": {"datum": {"year":2024,"month":2,"date":20,"hours":6,"minutes":43,"utc":true}, "type": "temporal"},
  "y": {"field": "value", "type": "quantitative", "scale": {"domain": [27.5, 81.25], "nice": false, "zero": false}, "axis": null},
  "text": {"field": "label"}}},
{"data": {"name": "rsilabels"}, "transform": [{"filter": "datum.label == '38.93'"}],
 "mark": {"type": "text", "fontSize": 5.3, "align": "left", "baseline": "middle", "yOffset": 6, "color": "#131722"},
 "encoding": {
  "x": {"datum": {"year":2024,"month":2,"date":20,"hours":6,"minutes":43,"utc":true}, "type": "temporal"},
  "y": {"field": "value", "type": "quantitative", "scale": {"domain": [27.5, 81.25], "nice": false, "zero": false}, "axis": null},
  "text": {"field": "label"}}}
]
}
]
}
